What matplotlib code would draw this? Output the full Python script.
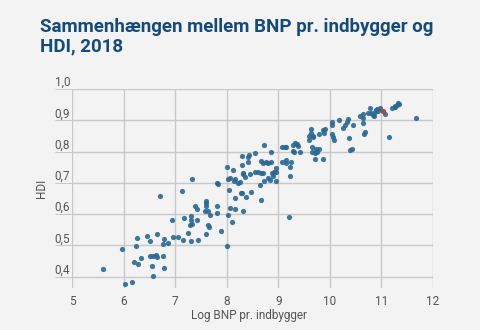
import numpy as np
import matplotlib
matplotlib.use('Agg')
import matplotlib.pyplot as plt

plt.rcParams['font.family'] = ['Roboto', 'DejaVu Sans']

# log GDP per capita vs HDI (2018)
log_bnp = [5.61, 5.96, 6.02, 6.16, 6.20, 6.25, 6.26, 6.28, 6.33, 6.45,
           6.51, 6.51, 6.57, 6.56, 6.58, 6.63, 6.65, 6.64, 6.71, 6.76,
           6.76, 6.79, 6.79, 6.87, 6.93, 6.95, 7.06, 7.14, 7.15, 7.18,
           7.24, 7.31, 7.31, 7.31, 7.29, 7.32, 7.32, 7.38, 7.42, 7.43,
           7.44, 7.58, 7.59, 7.60, 7.60, 7.60, 7.64, 7.64, 7.65, 7.67,
           7.81, 7.82, 7.81, 7.83, 7.89, 8.01, 8.01, 8.02, 8.03, 8.05,
           8.06, 8.06, 8.11, 8.12, 8.15, 8.16, 8.17, 8.17, 8.21, 8.25,
           8.28, 8.29, 8.29, 8.30, 8.31, 8.31, 8.32, 8.36, 8.38, 8.41,
           8.42, 8.44, 8.46, 8.48, 8.54, 8.55, 8.60, 8.65, 8.66, 8.67,
           8.67, 8.70, 8.70, 8.72, 8.73, 8.77, 8.81, 8.81, 8.84, 8.86,
           8.86, 8.88, 8.89, 8.92, 8.95, 8.96, 8.96, 9.07, 9.08, 9.13,
           9.15, 9.15, 9.15, 9.20, 9.22, 9.23, 9.24, 9.29, 9.29, 9.30,
           9.33, 9.36, 9.39, 9.42, 9.59, 9.60, 9.64, 9.64, 9.65, 9.66,
           9.67, 9.68, 9.71, 9.72, 9.74, 9.76, 9.79, 9.79, 9.87, 9.87,
           9.88, 9.90, 10.04, 10.05, 10.05, 10.07, 10.09, 10.18, 10.26, 10.30,
           10.33, 10.35, 10.37, 10.40, 10.43, 10.45, 10.58, 10.64, 10.64, 10.65,
           10.66, 10.69, 10.73, 10.77, 10.79, 10.83, 10.86, 10.88, 10.90, 10.92,
           10.94, 10.97, 11.07, 11.14, 11.21, 11.26, 11.27, 11.30, 11.32, 11.34,
           11.67]
hdi = [0.425, 0.487, 0.377, 0.382, 0.446, 0.497, 0.522, 0.439, 0.459, 0.529,
       0.513, 0.465, 0.465, 0.434, 0.402, 0.468, 0.462, 0.537, 0.658, 0.465,
       0.503, 0.428, 0.520, 0.507, 0.581, 0.528, 0.527, 0.675, 0.518, 0.586,
       0.540, 0.515, 0.594, 0.581, 0.564, 0.567, 0.713, 0.626, 0.615, 0.580,
       0.518, 0.610, 0.642, 0.637, 0.627, 0.536, 0.611, 0.564, 0.559, 0.597,
       0.625, 0.605, 0.700, 0.696, 0.545, 0.497, 0.752, 0.713, 0.598, 0.677,
       0.714, 0.618, 0.575, 0.742, 0.705, 0.615, 0.652, 0.713, 0.699, 0.704,
       0.669, 0.757, 0.667, 0.785, 0.731, 0.609, 0.727, 0.720, 0.654, 0.765,
       0.782, 0.790, 0.728, 0.671, 0.795, 0.734, 0.734, 0.694, 0.645, 0.771,
       0.733, 0.764, 0.733, 0.820, 0.707, 0.766, 0.764, 0.714, 0.708, 0.800,
       0.767, 0.731, 0.723, 0.734, 0.706, 0.746, 0.734, 0.766, 0.813, 0.816,
       0.813, 0.772, 0.763, 0.590, 0.723, 0.751, 0.768, 0.822, 0.803, 0.797,
       0.827, 0.824, 0.817, 0.797, 0.849, 0.838, 0.873, 0.860, 0.816, 0.798,
       0.845, 0.851, 0.795, 0.775, 0.808, 0.800, 0.808, 0.856, 0.870, 0.777,
       0.859, 0.872, 0.894, 0.884, 0.855, 0.846, 0.837, 0.902, 0.874, 0.886,
       0.893, 0.905, 0.843, 0.805, 0.807, 0.885, 0.915, 0.892, 0.907, 0.919,
       0.856, 0.863, 0.923, 0.940, 0.924, 0.916, 0.913, 0.927, 0.934, 0.937,
       0.931, 0.938, 0.921, 0.847, 0.938, 0.943, 0.946, 0.949, 0.955, 0.951,
       0.908]

# Danmark highlighted
dk_bnp = [11.03]
dk_hdi = [0.930]

x_ticks = [5, 6, 7, 8, 9, 10, 11, 12]
y_ticks = [0.4, 0.5, 0.6, 0.7, 0.8, 0.9, 1.0]
y_labels = ['0,4', '0,5', '0,6', '0,7', '0,8', '0,9', '1,0']

bg = '#f3f3f4'
grid_col = '#c8c8c8'
txt_col = '#555555'

fig = plt.figure(figsize=(4.8, 3.3), dpi=100, facecolor=bg)
ax = fig.add_axes([72/480, 1 - 287.6/330, 361/480, 198.6/330])
ax.set_facecolor(bg)

ax.scatter(log_bnp, hdi, s=14, color='#2a6791', alpha=0.9, linewidths=0, zorder=3)
ax.scatter(dk_bnp, dk_hdi, s=14, color='#b5413f', linewidths=0, zorder=4)

ax.set_xlim(5, 12)
ax.set_ylim(0.365, 1.0)
ax.set_xticks(x_ticks)
ax.set_yticks(y_ticks)
ax.set_yticklabels(y_labels)
ax.grid(True, color=grid_col, linewidth=1.0, zorder=0)
ax.set_axisbelow(True)
for s in ax.spines.values():
    s.set_visible(False)

ax.tick_params(axis='x', length=0, pad=5, labelsize=8.5, labelcolor=txt_col)
ax.tick_params(axis='y', length=12.2, width=0.72, color=grid_col, pad=-10.8,
               labelsize=8.5, labelcolor=txt_col)
for lbl in ax.get_yticklabels():
    lbl.set_verticalalignment('bottom')

ax.set_xlabel('Log BNP pr. indbygger', fontsize=8.5, color=txt_col)
ax.xaxis.set_label_coords(0.49, -0.108)
ax.set_ylabel('HDI', fontsize=8.5, color=txt_col)
ax.yaxis.set_label_coords(-0.066, 0.5)

fig.text(40/480, 1 - 18/330, 'Sammenhængen mellem BNP pr. indbygger og\nHDI, 2018',
         fontsize=13.5, fontweight='bold', color='#164b79', ha='left', va='top',
         linespacing=1.08)

fig.savefig('out.png', dpi=100, facecolor=bg)
